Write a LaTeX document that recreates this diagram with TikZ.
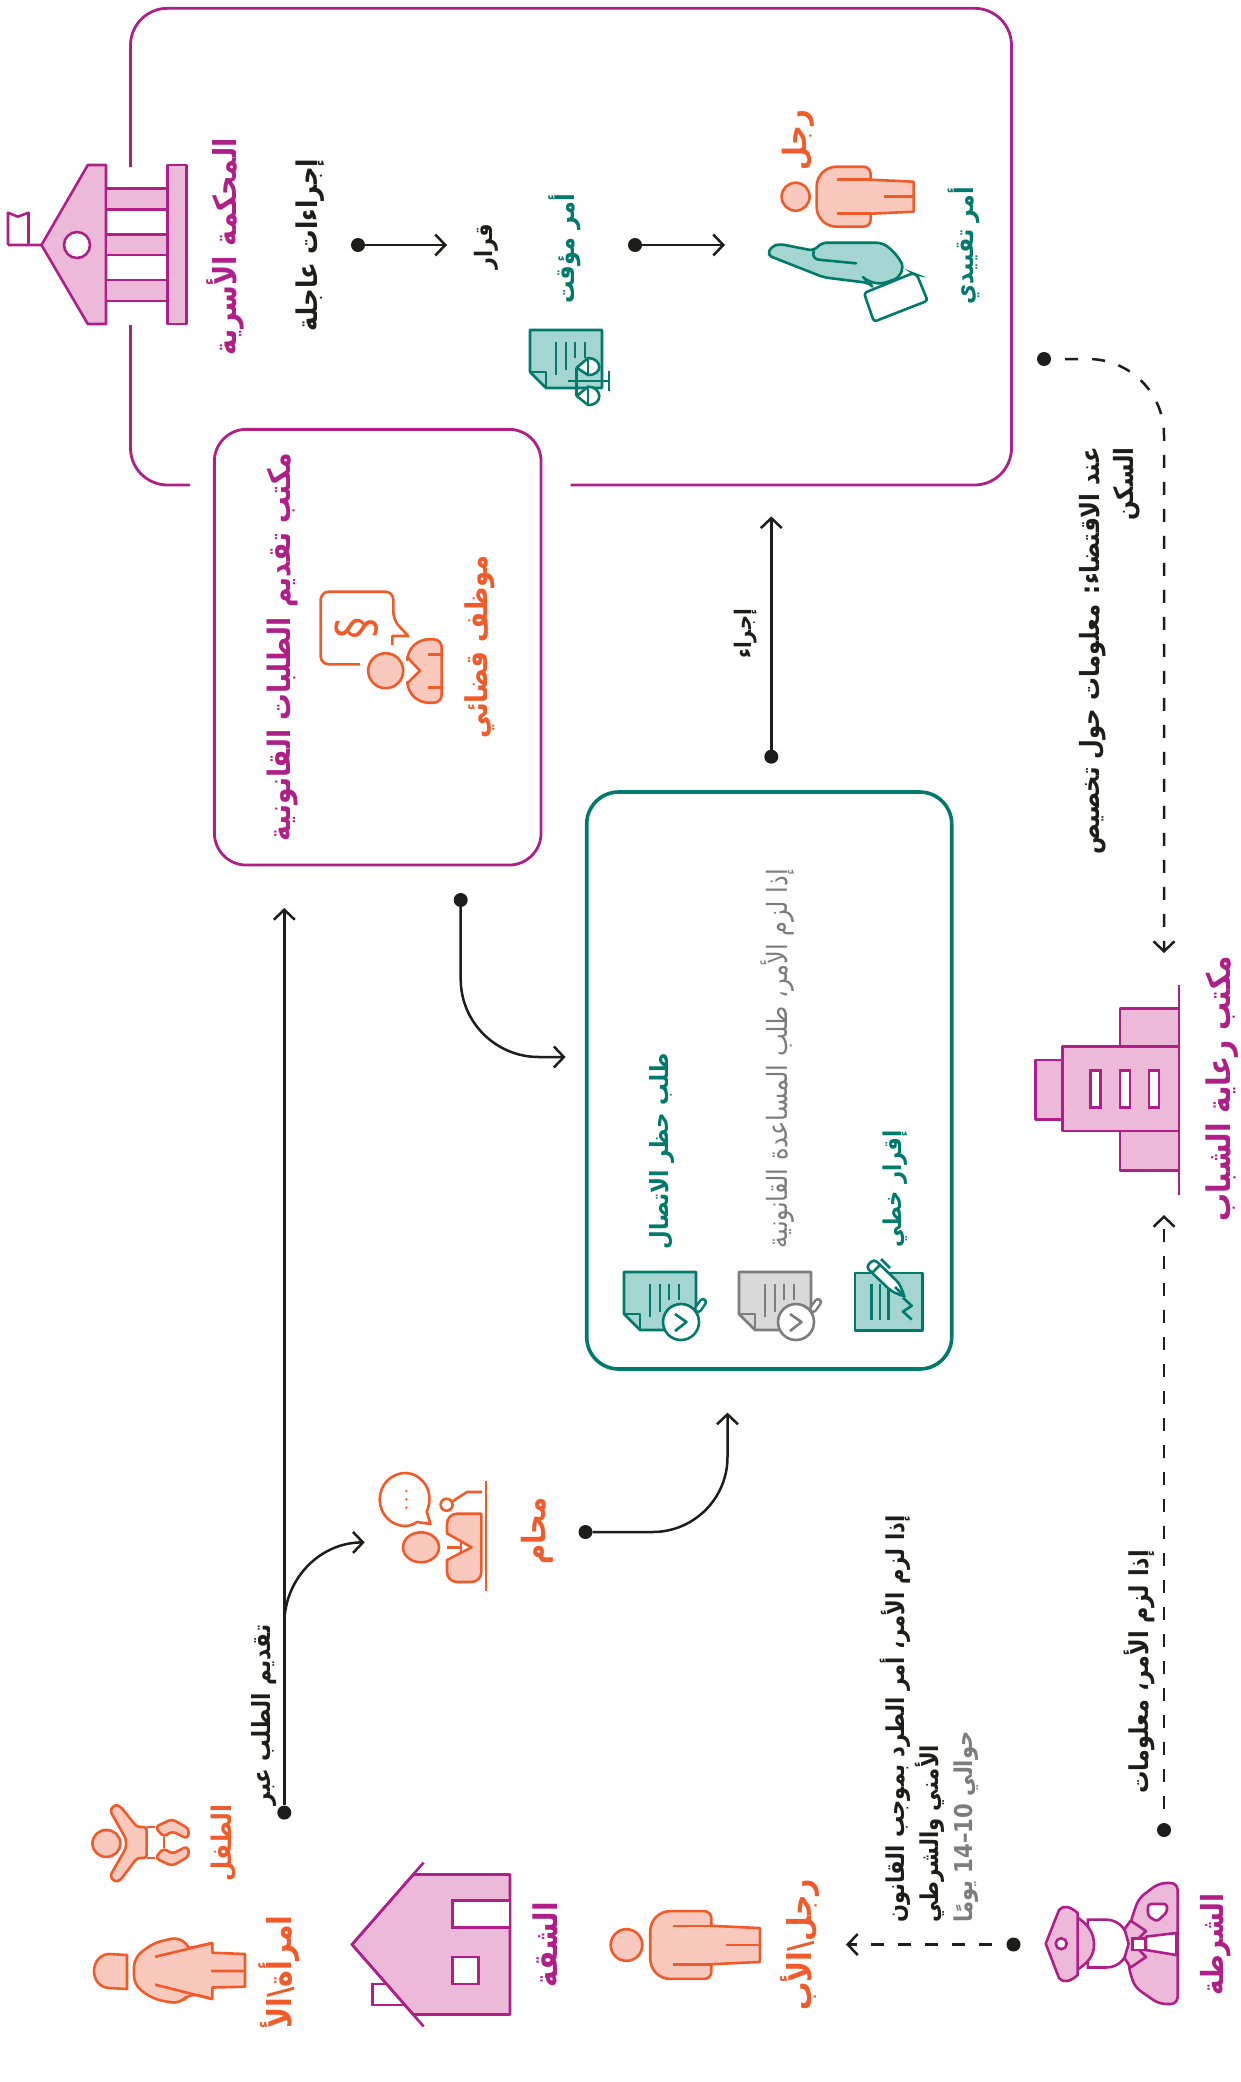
\documentclass[tikz,border=0pt]{standalone}
\usepackage{fontspec}
\usetikzlibrary{arrows.meta}
\TeXXeTstate=1
\newfontfamily\arfont[Script=Arabic,FakeStretch=0.86]{DejaVu Sans}
\definecolor{pinkline}{RGB}{176,30,136}
\definecolor{pinkfill}{RGB}{236,186,216}
\definecolor{orangeline}{RGB}{241,90,41}
\definecolor{orangefill}{RGB}{249,201,190}
\definecolor{tealline}{RGB}{0,122,106}
\definecolor{tealfill}{RGB}{165,213,208}
\definecolor{greyline}{RGB}{125,125,125}
\definecolor{greyfill}{RGB}{217,217,217}
\definecolor{inkline}{RGB}{29,29,27}
\newcommand\artext[1]{\beginR #1\endR}
\tikzset{
  connector/.style={draw=inkline,line width=2.5pt,-{Straight Barb[length=10pt,width=21pt,line width=2.5pt]}},
  dashedlink/.style={connector,dash pattern=on 13pt off 14pt,dash phase=13pt},
  dotmark/.style={circle,fill=inkline,minimum size=14pt,inner sep=0pt},
  pinkicon/.style={draw=pinkline,fill=pinkfill,line width=2.6pt,line join=round},
  orangeicon/.style={draw=orangeline,fill=orangefill,line width=2.6pt,line join=round},
  orangewire/.style={draw=orangeline,line width=2.6pt,line join=round},
  tealicon/.style={draw=tealline,fill=tealfill,line width=2.6pt,line join=round},
  roundbox/.style={draw=pinkline,line width=2.8pt,rounded corners=32pt,inner sep=0pt},
  arlabel/.style={rotate=90,inner sep=0pt,font=\arfont\bfseries\fontsize{#1}{34}\selectfont},
  manicon/.pic={
    \draw[orangeicon] (0,0) circle[radius=14];
    \draw[orangeicon] (118,-15) -- (75,-17) [rounded corners=7] -- (75,-30) [rounded corners=20] -- (21,-30) -- (21,30) [rounded corners=7] -- (75,30) [sharp corners] -- (75,17) -- (118,15) -- cycle;
    \draw[orangewire] (41,-17) -- (75,-17) (41,17) -- (75,17) (88,0) -- (118,0);
  }
}
\newcommand\docicon[4]{%
  \begin{scope}[shift={(#1,#2)},draw=#3,line width=2.6pt,line join=round]
    \draw[fill=#4] (0,0) -- (72,0) -- (72,58) -- (16,58) -- (0,42) -- cycle;
    \draw (0,42) -- (16,42) -- (16,58);
    \draw (26,12) -- (26,45) (36,12) -- (36,40) (45,12) -- (45,28) (55,12) -- (55,28);
  \end{scope}}
\newcommand\clockicon[3]{%
  \begin{scope}[shift={(#1,#2)},draw=#3,line width=2.6pt,line join=round]
    \draw[line width=8.5pt,line cap=round] (74,37) -- (79,30);
    \draw[white,line width=3.5pt,line cap=round] (74,37) -- (79,30);
    \draw[fill=white] (57,50) circle[radius=18];
    \draw (51,42) -- (62.5,50) -- (51,59);
  \end{scope}}
\begin{document}
\begin{tikzpicture}[x=1pt,y=-1pt]
\useasboundingbox (0,0) rectangle (1240,2082);
% family court
\draw[draw=pinkline,line width=2.8pt,rounded corners=37pt] (130.5,167) -- (130.5,8.3) -- (1011.5,8.3) -- (1011.5,485) -- (570.6,485);
\draw[draw=pinkline,line width=2.8pt,rounded corners=37pt] (130.5,325) -- (130.5,485) -- (190,485);
\draw[draw=pinkline,line width=2.6pt,line join=round] (8,245) -- (8,212.7) -- (17.8,216.7) -- (28.5,212.7) -- (28.5,245) -- (41.5,245) (8,245) -- (28.5,245);
\draw[pinkicon] (41.5,245) -- (87.8,165) -- (106,165) -- (106,324) -- (87.8,324) -- cycle;
\draw[pinkline,fill=white,line width=2.6pt] (77,245) circle[radius=13];
\draw[pinkicon] (167.7,165) rectangle (186.6,324);
\draw[pinkicon] (106,188.3) rectangle (167.7,209.3);
\draw[pinkicon] (106,234.3) rectangle (167.7,255);
\draw[pinkicon] (106,280) rectangle (167.7,301);
\node[arlabel=31.6,text=pinkline] (courtname) at (225,247) {\artext{المحكمة الأسرية}};
\node[arlabel=28.5,text=inkline] (urgent) at (310,245) {\artext{إجراءات عاجلة}};
\node[dotmark] (urgentdot) at (358,245) {};
\coordinate (urgentend) at (447,245);
\draw[connector] (urgentdot) -- (urgentend);
\node[arlabel=24,text=inkline] (ruling) at (486,247) {\artext{قرار}};
\node[arlabel=26,text=tealline] (interim) at (565,249) {\artext{أمر مؤقت}};
\node[dotmark] (rulingdot) at (635,245) {};
\coordinate (rulingend) at (725,245);
\draw[connector] (rulingdot) -- (rulingend);
% document with scales
\docicon{530}{330}{tealline}{tealfill}
\begin{scope}[draw=tealline,line width=2.6pt,line join=round]
\draw[fill=white] (576.7,367.7) -- (588,358) .. controls (602,358) and (604,375) .. (588,375) -- cycle;
\draw[fill=white] (576.7,396) -- (588,386.7) .. controls (602,386.7) and (604,405) .. (588,405) -- cycle;
\draw (568,381) -- (609,381) (609,370.7) -- (609,391) (576.7,367.7) -- (576.7,396) (588,358) -- (588,375) (588,386.7) -- (588,405);
\end{scope}
% man and hand
\node[arlabel=32,text=orangeline] (manname) at (798,140) {\artext{رجل}};
\pic (courtman) at (795.6,196.7) {manicon};
\draw[tealicon,rounded corners=5pt] (767,255) -- (772,246) -- (780,244) -- (813.7,250.7) -- (821.7,242.7) -- (881,242.7) [rounded corners=14pt] -- (896.8,251.7) -- (906.7,275) -- (873,287) [rounded corners=5pt] -- (869,283) -- (823.6,277.3) -- cycle;
\draw[draw=tealline,line width=2.6pt,line cap=round] (813.7,250.7) .. controls (812,257) and (815,260) .. (821.7,260) -- (856,263.3);
\draw[draw=tealline,fill=white,line width=2.6pt,rounded corners=3pt] (864,293) -- (912.6,273.3) -- (917,275) -- (927.6,300.7) -- (873.9,321.7) -- cycle;
\node[arlabel=25.7,text=tealline] (restraining) at (964,246) {\artext{أمر تقييدي}};
% filing office
\node[roundbox,minimum width=326.7pt,minimum height=435.7pt] (filing) at (377.7,647.2) {};
\node[arlabel=30.9,text=pinkline] (filingname) at (283,647) {\artext{مكتب تقديم الطلبات القانونية}};
\draw[orangewire,rounded corners=8pt] (360,664.3) -- (320.7,664.3) -- (320.7,591.7) -- (393.3,591.7) -- (393.3,620) [sharp corners] -- (408.3,636) -- (392.3,636) -- (392.3,645);
\node[rotate=90,font=\arfont\fontsize{52}{52}\selectfont,text=orangeline,inner sep=0pt] (paragraph) at (356.7,628) {§};
\draw[orangeicon] (385.7,670.7) circle[radius=17.5];
\draw[orangeicon,rounded corners=8pt] (407.3,683.3) -- (407.3,690) -- (420,702.7) -- (441.7,702.7) -- (441.7,639.3) -- (420,639.3) -- (407.3,652) [sharp corners] -- (407.3,657.3) -- (420,670.7) -- cycle;
\draw[orangewire] (428.3,654.3) -- (441.7,654.3) (428.3,687.7) -- (441.7,687.7);
\node[arlabel=30,text=orangeline] (clerk) at (480,647) {\artext{موظف قضائي}};
\node[dotmark] (filingdot) at (460.7,900) {};
\coordinate (statementend) at (565.6,1057);
\draw[connector,rounded corners=78pt] (filingdot) |- (statementend);
% statement box
\node[roundbox,draw=tealline,line width=3.6pt,minimum width=365pt,minimum height=577pt] (statement) at (769.2,1080.5) {};
\node[arlabel=25,text=tealline] (banrequest) at (661.7,1151.5) {\artext{طلب حظر الاتصال}};
\node[rotate=90,inner sep=0pt,font=\arfont\fontsize{28}{34}\selectfont,text=greyline] (legalaid) at (778,1058.5) {\artext{إذا لزم الأمر، طلب المساعدة القانونية}};
\node[arlabel=24.5,text=tealline] (declaration) at (895,1189) {\artext{إقرار خطي}};
\docicon{624}{1272}{tealline}{tealfill}
\clockicon{624}{1272}{tealline}
\docicon{739}{1272}{greyline}{greyfill}
\clockicon{739}{1272}{greyline}
\draw[tealicon] (855,1273) rectangle (922.7,1330.6);
\draw[draw=tealline,line width=2.6pt] (871.7,1284) -- (871.7,1319.5) (880,1284) -- (880,1319.5) (888.3,1288) -- (888.3,1319.5);
\draw[draw=tealline,line width=2.6pt,line join=round] (903,1297.8) -- (911.7,1305.7) -- (903,1311.6) -- (911.7,1319.5);
\draw[draw=tealline,fill=white,line width=2.6pt,line join=round,rounded corners=4pt] (874,1259) -- (899,1283) -- (905,1297) -- (891,1291) -- (866,1267) -- cycle;
\draw[draw=tealline,line width=2.6pt] (880,1265) -- (872,1273) (895,1287) -- (905,1297) (881,1259) -- (890,1268);
\node[dotmark] (statementdot) at (771.3,756.7) {};
\coordinate (courtend) at (771.3,516.4);
\draw[connector] (statementdot) -- (courtend);
\node[arlabel=22.8,text=inkline] (procedure) at (746,634) {\artext{إجراء}};
% youth office
\node[dotmark] (housingdot) at (1044,359) {};
\coordinate (officetop) at (1164,953);
\draw[dashedlink,rounded corners=76pt] (housingdot) -| (officetop);
\node[arlabel=26.5,text=inkline,align=right,anchor=east] (housinginfo) at (1110,447) {\artext{عند الاقتضاء: معلومات حول تخصيص}\\\artext{السكن}};
\draw[pinkicon] (1035.7,1060) rectangle (1062.3,1119.3);
\draw[pinkicon] (1120,1008.3) rectangle (1179,1046.7);
\draw[pinkicon] (1120,1131) rectangle (1179,1170.7);
\draw[pinkicon] (1062.3,1046.7) rectangle (1179,1131);
\draw[draw=pinkline,line width=2.6pt] (1179,985) -- (1179,1195);
\foreach \winx in {1090.7,1120,1149}
  \draw[draw=pinkline,fill=white,line width=2.6pt] (\winx,1070.7) rectangle +(10,36.6);
\node[arlabel=32.5,text=pinkline] (officename) at (1221.7,1089) {\artext{مكتب رعاية الشباب}};
\node[dotmark] (policeinfodot) at (1164,1830) {};
\coordinate (officebottom) at (1164,1215);
\draw[dashedlink] (policeinfodot) -- (officebottom);
\node[arlabel=26,text=inkline] (policeinfo) at (1139,1672) {\artext{إذا لزم الأمر، معلومات}};
% lawyer
\draw[orangewire] (486,1481) -- (486,1590.7);
\draw[orangewire] (482,1492) -- (467,1492) -- (452.3,1501.4);
\draw[orangewire,fill=white] (446.6,1504.7) circle[radius=6];
\draw[orangewire,line join=round] (430.5,1524) -- (426.7,1511.7) .. controls (436,1490) and (420,1473) .. (405.7,1473) .. controls (390,1473) and (379.7,1486) .. (379.7,1499.4) .. controls (379.7,1513) and (390,1526) .. (405.7,1526) .. controls (410,1526) and (414,1524) .. (417,1522) -- cycle;
\foreach \doty in {1491,1499.4,1507.6}
  \fill[orangeline] (406.4,\doty) circle[radius=1.3];
\draw[orangeicon] (421,1547.3) ellipse[x radius=18,y radius=15];
\draw[orangeicon,rounded corners=10pt] (447,1560) -- (447,1582) -- (481.4,1582) [sharp corners] -- (481.4,1513.7) [rounded corners=10pt] -- (447,1513.7) [sharp corners] -- (447,1533.4) -- (471.5,1547.3) -- cycle;
\draw[orangewire] (447,1547.3) -- (461,1547.3) (461,1541) -- (461,1553);
\node[arlabel=32,text=orangeline] (lawyer) at (537.7,1531) {\artext{محام}};
\node[dotmark] (lawyerdot) at (585.5,1532) {};
\coordinate (lawyerend) at (727.5,1412.6);
\draw[connector,rounded corners=75pt] (lawyerdot) -| (lawyerend);
% filing line
\node[dotmark] (applydot) at (284.3,1812.6) {};
\coordinate (filingend) at (284.3,908);
\coordinate (branchstart) at (284.3,1624);
\coordinate (branchend) at (364.7,1542.4);
\draw[connector] (applydot) -- (filingend);
\draw[connector] (branchstart) .. controls +(0,-46) and +(-44,0) .. (branchend);
\node[arlabel=25,text=inkline] (filingvia) at (264,1715) {\artext{تقديم الطلب عبر}};
% child
\draw[orangeicon] (106.4,1843.4) ellipse[x radius=14,y radius=13.5];
\draw[orangeicon,rounded corners=3pt] (146.6,1827) -- (137,1827) -- (120.5,1806.5) -- (114.8,1804.5) -- (110,1810.6) -- (126,1839) -- (126,1848) -- (110,1876) -- (115,1882) -- (120.5,1880) -- (137,1858) -- (146.6,1858) -- cycle;
\draw[orangeicon,rounded corners=4pt] (155,1827) -- (172,1819) -- (189.4,1829) -- (187.5,1839) -- (172,1831) -- (163.8,1837) -- cycle;
\draw[orangeicon,rounded corners=4pt] (155,1858) -- (172,1866) -- (189.4,1856) -- (187.5,1846) -- (172,1854) -- (163.8,1848) -- cycle;
\draw[orangewire] (146.6,1827) -- (155,1827) (146.6,1858) -- (155,1858) (163.8,1837) -- (163.8,1848);
\node[arlabel=27,text=orangeline] (childname) at (224,1843) {\artext{الطفل}};
% woman
\draw[orangeicon] (127,1955) -- (110,1954) .. controls (100,1954) and (94,1962) .. (94,1971) .. controls (94,1980) and (100,1988) .. (110,1988) -- (127,1989) -- cycle;
\draw[orangeicon,rounded corners=9pt] (189.4,1948) -- (180,1936.7) -- (153,1943) -- (134,1958) -- (134,1985) -- (153,1999) -- (180,2004) -- (189.4,1993) [sharp corners] -- (212.4,1999) -- (212.4,1987.5) -- (245,1986.7) -- (245,1954) -- (212.4,1952.7) -- (212.4,1943) -- cycle;
\draw[orangewire] (155,1956.8) -- (212.4,1943) (155,1984.6) -- (212.4,1999) (211,1971) -- (245,1971);
\node[arlabel=33,text=orangeline] (womanname) at (279.4,1972) {\artext{امرأة\textbackslash الأ}};
% flat
\draw[draw=pinkline,fill=white,line width=2.6pt] (372.4,1983.8) rectangle (405.7,2005);
\draw[pinkicon] (352,1944.5) -- (413.3,1874.5) -- (510,1874.5) -- (510,2014.5) -- (413.3,2014.5) -- cycle;
\draw[draw=pinkline,line width=2.6pt] (423.6,1862.6) -- (352,1944.5) -- (423.6,2026.4);
\draw[draw=pinkline,fill=white,line width=2.6pt] (452.4,1900.7) rectangle (510,1927.3);
\draw[draw=pinkline,fill=white,line width=2.6pt] (452.4,1956.8) rectangle (478.4,1983.8);
\node[arlabel=32.5,text=pinkline] (flatname) at (545,1945) {\artext{الشقة}};
% father
\pic[scale=1.13] (father) at (626.5,1945) {manicon};
\node[arlabel=33,text=orangeline] (fathername) at (800,1945) {\artext{رجل\textbackslash الأب}};
% police
\node[dotmark] (policedot) at (1013.5,1944.5) {};
\coordinate (fatherend) at (846,1944.5);
\draw[dashedlink] (policedot) -- (fatherend);
\node[arlabel=24.6,text=inkline,align=left,anchor=west] (eviction) at (929,1923) {\artext{إذا لزم الأمر، أمر الطرد بموجب القانون}\\\artext{الأمني والشرطي}\\\textcolor{greyline}{\artext{حوالي \beginL 10–14\endL{} يومًا}}};
\draw[pinkicon,rounded corners=7pt] (1130.6,1921.5) -- (1138.6,1898.4) -- (1159,1883) -- (1177.6,1883) -- (1177.6,2004) -- (1159,2004) -- (1134.7,1987) -- (1128.6,1967.5) -- (1128.6,1943.7) -- cycle;
\draw[draw=pinkline,fill=white,line width=2.6pt,line join=round] (1146,1936.6) -- (1176.3,1933) -- (1176.3,1955) -- (1146,1950) -- cycle;
\draw[draw=pinkline,fill=white,line width=2.6pt,rounded corners=3pt] (1148,1904) -- (1167,1904) -- (1167,1912) -- (1157,1921.5) -- (1148,1916) -- cycle;
\draw[draw=pinkline,fill=white,line width=2.6pt] (1087.8,1919.6) -- (1106,1919.6) .. controls (1120,1919.6) and (1128.6,1932) .. (1128.6,1943.7) .. controls (1128.6,1956) and (1120,1967.5) .. (1106,1967.5) -- (1087.8,1967.5) -- cycle;
\draw[pinkicon] (1124.5,1929) -- (1130.6,1920.7) -- (1146,1931) -- (1133,1943.7) -- (1146,1957) -- (1130.6,1967.5) -- (1124.5,1958) -- (1128.6,1943.7) -- cycle;
\draw[draw=pinkline,fill=white,line width=2.6pt] (1132.7,1938.7) rectangle (1145,1950);
\draw[pinkicon] (1077.6,1917.6) .. controls (1089,1925) and (1094,1934) .. (1094,1944.5) .. controls (1094,1955) and (1089,1962) .. (1077.6,1969.5) -- cycle;
\draw[pinkicon] (1045.7,1943.7) -- (1059,1910) .. controls (1063,1905) and (1070,1906) .. (1077.6,1913) -- (1077.6,1975) .. controls (1070,1982) and (1063,1983) .. (1059,1978) -- cycle;
\draw[draw=pinkline,fill=white,line width=2.6pt] (1061.2,1943.7) circle[radius=5.5];
\node[arlabel=30.5,text=pinkline] (policename) at (1216,1944.5) {\artext{الشرطة}};
\end{tikzpicture}
\end{document}
